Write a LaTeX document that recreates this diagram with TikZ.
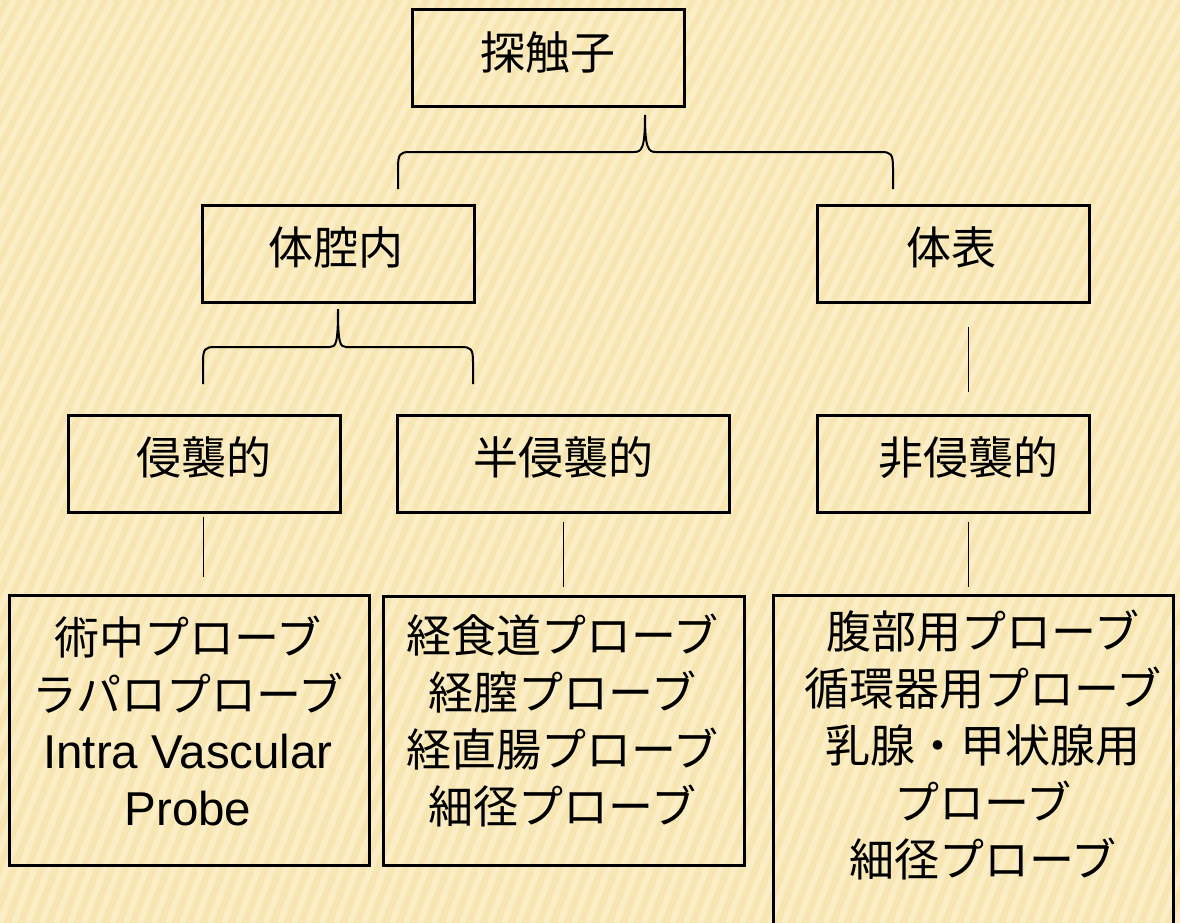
\documentclass[tikz,border=0pt]{standalone}
\usepackage{fontspec}
\setmainfont{Liberation Sans}
\newfontfamily\cjk{Noto Sans CJK JP}
\usetikzlibrary{calc}
\definecolor{bgbase}{HTML}{F8E6B2}
\definecolor{bglight}{HTML}{FDF2CF}
\tikzset{
  x=1pt, y=-1pt,
  frame/.style={draw=black, line width=3pt, inner sep=0pt},
  txt/.style={inner sep=0pt, align=center, font=\fontsize{45}{57}\selectfont},
  brace/.style={draw=black, line width=2pt},
  conn/.style={draw=black, line width=1pt},
  stripe/.style={draw=bglight, line width=6pt, opacity=0.7}
}
\begin{document}
\begin{tikzpicture}
\useasboundingbox (0,0) rectangle (1180,923);
\clip (0,0) rectangle (1180,923);
\fill[bgbase] (0,0) rectangle (1180,923);
\foreach \s in {-700,-686,...,1180}{
  \draw[stripe] (\s,923) .. controls (\s+120,600) and (\s+260,300) .. (\s+420,0);
}

% frames
\node[frame, minimum width=272, minimum height=97] (top) at (548,58.5) {};
\node[frame, minimum width=272, minimum height=97] (tai) at (338,253.5) {};
\node[frame, minimum width=272, minimum height=97] (hyo) at (953,253.5) {};
\node[frame, minimum width=272, minimum height=97] (shin) at (204,463.5) {};
\node[frame, minimum width=332, minimum height=97] (han) at (563,463.5) {};
\node[frame, minimum width=272, minimum height=97] (hi) at (953,463.5) {};
\node[frame, minimum width=360, minimum height=270] (lb) at (189,730) {};
\node[frame, minimum width=361, minimum height=269] (mb) at (563.5,730.5) {};
\node[frame, minimum width=400, minimum height=380] (rb) at (973,785) {};

% texts
\node[txt] (topt) at ($(top.center)+(0,-6)$) {\cjk 探触子};
\node[txt] (tait) at ($(tai.center)+(-2,-6)$) {\cjk 体腔内};
\node[txt] (hyot) at ($(hyo.center)+(-2,-6)$) {\cjk 体表};
\node[txt] (shint) at ($(shin.center)+(0,-6)$) {\cjk 侵襲的};
\node[txt] (hant) at ($(han.center)+(0,-6)$) {\cjk 半侵襲的};
\node[txt] (hit) at ($(hi.center)+(15,-6)$) {\cjk 非侵襲的};
\node[txt] (lbt) at ($(lb.center)+(-1,-9)$)
  {{\cjk 術中プローブ}\\{\cjk ラパロプローブ}\\{\fontsize{47.5}{57}\selectfont Intra Vascular}\\{\fontsize{47.5}{57}\selectfont Probe}};
\node[txt] (mbt) at ($(mb.center)+(-1,-10)$)
  {\cjk 経食道プローブ\\\cjk 経膣プローブ\\\cjk 経直腸プローブ\\\cjk 細径プローブ};
\node[txt] (rbt) at (983,745)
  {\cjk 腹部用プローブ\\\cjk 循環器用プローブ\\\cjk 乳腺・甲状腺用\\\cjk プローブ\\\cjk 細径プローブ};

% braces
\coordinate (b1tip) at (645,115);
\coordinate (b2tip) at (338,309);
\draw[brace] (398,189) -- (398,168) .. controls (398,154) and (400,152) .. (410,152)
  -- (634,152) .. controls (642,152) and (645,148) .. (b1tip)
  .. controls (645,148) and (648,152) .. (656,152)
  -- (881,152) .. controls (891,152) and (893,154) .. (893,168) -- (893,189);
\draw[brace] (203,384) -- (203,362) .. controls (203,349) and (205,347) .. (215,347)
  -- (330,347) .. controls (336,347) and (338,343) .. (b2tip)
  .. controls (338,343) and (340,347) .. (346,347)
  -- (461,347) .. controls (471,347) and (473,349) .. (473,362) -- (473,384);

% connectors
\draw[conn, shorten <=23pt, shorten >=22pt] ($(hyo.south)+(15,0)$) -- ($(hi.north)+(15,0)$);
\draw[conn, shorten <=3pt, shorten >=17pt] ($(shin.south)+(-1,0)$) -- ($(shin.south |- lb.north)+(-1,0)$);
\draw[conn, shorten <=8pt, shorten >=8pt] (han.south) -- (han.south |- mb.north);
\draw[conn, shorten <=8pt, shorten >=7pt] ($(hi.south)+(15,0)$) -- ($(hi.south |- rb.north)+(15,0)$);
\end{tikzpicture}
\end{document}
